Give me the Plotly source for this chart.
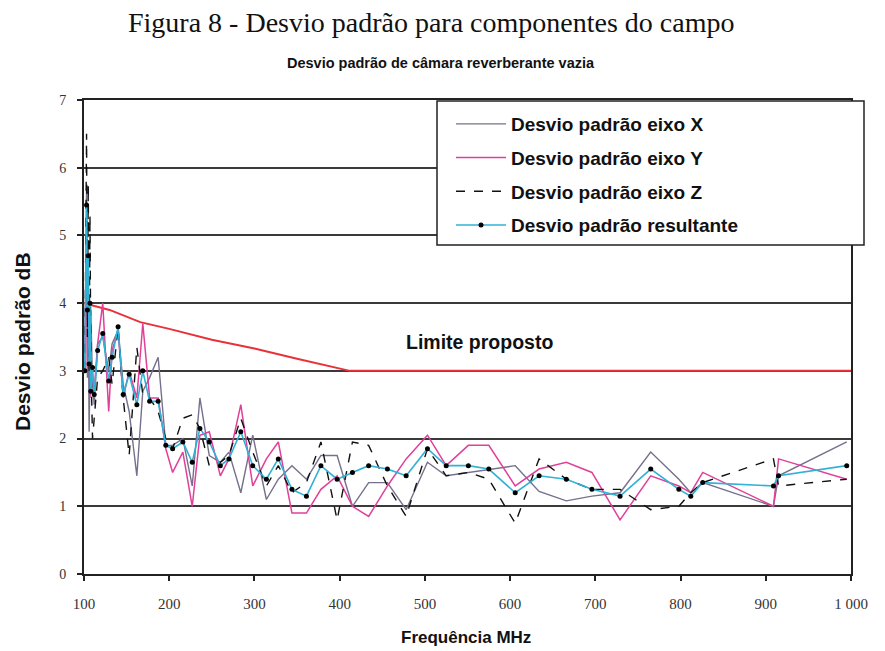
import plotly.graph_objects as go

# Frequencies (MHz) shared by the measured series
freq = [101, 103, 104, 105, 106, 107, 108, 110, 112, 116, 122, 129, 133, 140, 146, 153,
        162, 169, 177, 187, 196, 204, 216, 227, 236, 247, 260, 270, 284, 298, 314, 328,
        344, 361, 378, 397, 415, 434, 456, 478, 503, 525, 551, 575, 606, 634, 666, 696,
        729, 765, 798, 812, 826, 909, 915, 995]

desvio_x = [3.1, 5.7, 2.9, 4.2, 2.1, 3.5, 3.9, 2.8, 2.5, 3.4, 3.5, 3.0, 3.4, 3.6, 2.8, 2.4,
            1.45, 2.7, 2.9, 3.2, 1.9, 1.9, 2.0, 1.3, 2.6, 1.75, 1.65, 1.8, 1.2, 2.05, 1.1, 1.4,
            1.6, 1.4, 1.75, 1.75, 1.0, 1.35, 1.35, 0.95, 1.65, 1.45, 1.5, 1.55, 1.6, 1.22, 1.08, 1.15,
            1.2, 1.8, 1.4, 1.2, 1.35, 1.0, 1.45, 1.95]

desvio_y = [3.3, 4.8, 3.0, 3.6, 3.95, 2.6, 3.0, 2.9, 2.7, 3.4, 4.0, 2.4, 3.3, 3.6, 2.6, 3.0,
            2.6, 3.7, 2.6, 2.6, 1.85, 1.5, 1.8, 1.0, 2.05, 2.1, 1.45, 1.7, 2.5, 1.3, 1.7, 1.95,
            0.9, 0.9, 1.25, 1.45, 1.0, 0.85, 1.3, 1.7, 2.05, 1.6, 1.9, 1.9, 1.3, 1.55, 1.65, 1.5,
            0.8, 1.45, 1.3, 1.2, 1.5, 1.0, 1.7, 1.4]

desvio_z = [3.0, 6.5, 3.5, 5.75, 3.0, 5.3, 3.2, 2.0, 2.3, 2.9, 3.0, 3.2, 2.8, 3.65, 2.6, 1.75,
            3.35, 2.65, 2.6, 2.4, 2.0, 1.85, 2.3, 2.35, 2.15, 1.6, 1.65, 1.75, 2.3, 1.8, 1.3, 1.6,
            1.2, 1.35, 1.95, 0.8, 1.95, 1.9, 1.3, 0.85, 1.85, 1.45, 1.5, 1.4, 0.75, 1.7, 1.4, 1.25,
            1.25, 0.95, 1.0, 1.2, 1.35, 1.7, 1.3, 1.4]

desvio_res = [3.0, 5.45, 3.9, 4.7, 3.1, 4.0, 2.7, 3.05, 2.65, 3.3, 3.55, 2.85, 3.2, 3.65, 2.65, 2.95,
              2.5, 3.0, 2.55, 2.55, 1.9, 1.85, 1.95, 1.65, 2.15, 1.95, 1.6, 1.7, 2.1, 1.6, 1.4, 1.7,
              1.25, 1.15, 1.6, 1.4, 1.5, 1.6, 1.55, 1.45, 1.85, 1.6, 1.6, 1.55, 1.2, 1.45, 1.4, 1.25,
              1.15, 1.55, 1.25, 1.15, 1.35, 1.3, 1.45, 1.6]

# Proposed limit
limite_freq = [100, 130, 166, 200, 250, 300, 350, 400, 412, 1000]
limite_val = [4.0, 3.9, 3.72, 3.62, 3.46, 3.33, 3.18, 3.03, 3.0, 3.0]

xtick_vals = [100, 200, 300, 400, 500, 600, 700, 800, 900, 1000]
xtick_text = ["100", "200", "300", "400", "500", "600", "700", "800", "900", "1 000"]
ytick_vals = [0, 1, 2, 3, 4, 5, 6, 7]

SANS = "Liberation Sans, Arial, sans-serif"
SERIF = "Liberation Serif, Times New Roman, serif"

fig = go.Figure()

fig.add_trace(go.Scatter(x=limite_freq, y=limite_val, mode="lines",
                         line=dict(color="#e8323a", width=2), showlegend=False))

fig.add_trace(go.Scatter(x=freq, y=desvio_x, mode="lines", name="<b>Desvio padrão eixo X</b>",
                         legendgroup="a", line=dict(color="#76708c", width=1.4)))
fig.add_trace(go.Scatter(x=freq, y=desvio_y, mode="lines", name="<b>Desvio padrão eixo Y</b>",
                         legendgroup="b", line=dict(color="#e0409a", width=1.5)))
fig.add_trace(go.Scatter(x=freq, y=desvio_z, mode="lines", name="<b>Desvio padrão eixo Z</b>",
                         legendgroup="c", line=dict(color="#111111", width=1.4, dash="dash")))
fig.add_trace(go.Scatter(x=freq, y=desvio_res, mode="lines+markers", name="<b>Desvio padrão resultante</b>",
                         legendgroup="d", line=dict(color="#2fb2d6", width=1.6),
                         marker=dict(color="#000000", size=5)))

OFF = 8  # page body margin
W, H = 885 - OFF, 651 - OFF
L, T = 84 - OFF, 100 - OFF
R = W - (851 - OFF)
B = H - (574 - OFF)
pw, ph = W - L - R, H - T - B

def px(sx):
    return (sx - OFF - L) / pw

def py(sy):
    return (H - B - (sy - OFF)) / ph

# Legend box
fig.add_shape(type="rect", xref="paper", yref="paper",
              x0=px(437), x1=px(864), y0=py(245), y1=py(101),
              fillcolor="white", line=dict(color="#222222", width=1.5), layer="above")

fig.update_layout(
    width=W, height=H,
    margin=dict(l=L, r=R, t=T, b=B),
    paper_bgcolor="white", plot_bgcolor="white",
    showlegend=True,
    legend=dict(x=px(451), y=py(105), xanchor="left", yanchor="top",
                bgcolor="rgba(0,0,0,0)", borderwidth=0, itemwidth=50,
                font=dict(family=SANS, size=19, color="#111111"),
                traceorder="grouped", tracegroupgap=6),
    xaxis=dict(range=[100, 1000], tickvals=xtick_vals, ticktext=xtick_text,
               showgrid=False, zeroline=False, showline=True, mirror=True,
               linecolor="#222222", linewidth=2, ticks="outside", ticklen=5,
               tickcolor="#222222", tickwidth=2, ticklabelstandoff=10,
               tickfont=dict(family=SERIF, size=15, color="#333333")),
    yaxis=dict(range=[0, 7], tickvals=ytick_vals, showgrid=True, gridcolor="#3a3a3a",
               gridwidth=1.6, zeroline=False, showline=True, mirror=True,
               linecolor="#222222", linewidth=2, ticks="outside", ticklen=5,
               tickcolor="#222222", tickwidth=2, ticklabelstandoff=8,
               tickfont=dict(family=SERIF, size=14, color="#333333")),
    annotations=[
        dict(text="Figura 8 - Desvio padrão para componentes do campo", xref="paper", yref="paper",
             x=px(431), y=py(22), showarrow=False, xanchor="center", yanchor="middle",
             font=dict(family=SERIF, size=28, color="#111111")),
        dict(text="<b>Desvio padrão de câmara reverberante vazia</b>", xref="paper", yref="paper",
             x=px(441), y=py(63), showarrow=False, xanchor="center", yanchor="middle",
             font=dict(family=SANS, size=14.5, color="#111111")),
        dict(text="<b>Frequência MHz</b>", xref="paper", yref="paper",
             x=px(466), y=py(637), showarrow=False, xanchor="center", yanchor="middle",
             font=dict(family=SANS, size=17, color="#111111")),
        dict(text="<b>Desvio padrão dB</b>", xref="paper", yref="paper",
             x=px(22), y=py(342), showarrow=False, xanchor="center", yanchor="middle",
             textangle=-90, font=dict(family=SANS, size=21, color="#111111")),
        dict(text="<b>Limite proposto</b>", xref="x", yref="y",
             x=564, y=3.42, showarrow=False, xanchor="center", yanchor="middle",
             font=dict(family=SANS, size=19.5, color="#111111")),
    ],
)

fig.write_html("out.html")
